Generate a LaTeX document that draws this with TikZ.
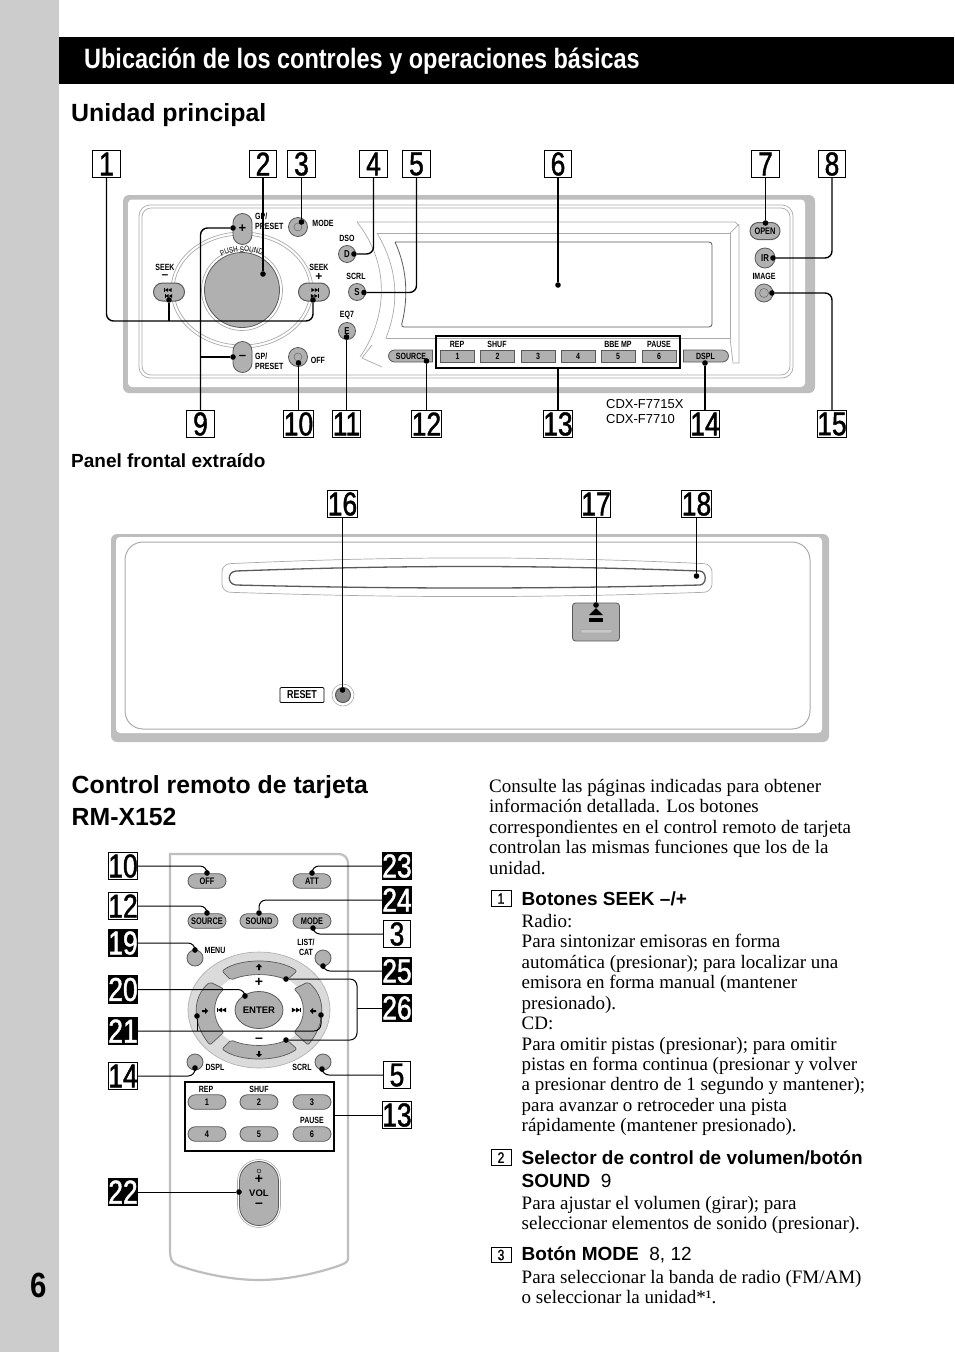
\documentclass[tikz,border=0pt]{standalone}
\usepackage{fontspec}
\setmainfont{Liberation Serif}
\setsansfont{Liberation Sans}
\newfontfamily\condfont[FakeStretch=0.78]{Liberation Sans}
\newfontfamily\headfont[FakeStretch=0.838]{Liberation Sans}
\newfontfamily\boxfont[FakeStretch=0.8,FakeBold=1.3]{Liberation Sans}
\usetikzlibrary{positioning,shapes.misc,shapes.geometric,decorations.text}
\definecolor{stripgray}{RGB}{204,204,204}
\definecolor{framegray}{RGB}{190,190,190}
\definecolor{keygray}{RGB}{176,176,176}
\definecolor{linegray}{RGB}{170,170,170}
\definecolor{keyedge}{RGB}{90,90,90}
\tikzset{
  numbox/.style={draw=black,fill=white,line width=0.7pt,minimum width=27.5pt,minimum height=27.5pt,inner sep=0pt,font=\boxfont\fontsize{33}{33}\selectfont},
  blackbox/.style={numbox,fill=black,text=white},
  txtbox/.style={draw=black,line width=0.7pt,minimum width=20pt,minimum height=15.5pt,inner sep=0pt,font=\boxfont\fontsize{15}{15}\selectfont},
  dotmark/.style={circle,fill=black,inner sep=0pt,minimum size=5.6pt},
  leader/.style={line width=1.4pt,rounded corners=7pt},
  tiny/.style={inner sep=0pt,align=center,font=\condfont\bfseries\fontsize{9}{10}\selectfont},
  minikey/.style={tiny},
  roundkey/.style={circle,draw=keyedge,fill=keygray,line width=0.8pt,minimum size=#1,inner sep=0pt},
  pillkey/.style={rounded rectangle,draw=keyedge,fill=keygray,line width=0.8pt,minimum width=38pt,minimum height=14.5pt,inner sep=0pt,font=\condfont\bfseries\fontsize{9.5}{10}\selectfont},
  ringline/.style={draw=linegray,line width=0.7pt},
  bodytext/.style={anchor=north west,inner sep=0pt,align=left,font=\rmfamily\fontsize{19}{20.45}\selectfont},
  itemhead/.style={anchor=west,inner sep=0pt,align=left,font=\sffamily\bfseries\fontsize{19}{22.5}\selectfont},
  skipicon/.pic={
    \fill (-6,-2.4) rectangle (-5.2,2.4);
    \fill (-5.2,0) -- (-1,-2.4) -- (-1,2.4) -- cycle;
    \fill (-1,0) -- (3.2,-2.4) -- (3.2,2.4) -- cycle;
  },
  padarrow/.pic={
    \fill (0,-3.2) -- (3.2,0) -- (1,0) -- (1,3) -- (-1,3) -- (-1,0) -- (-3.2,0) -- cycle;
  }
}
\begin{document}
\begin{tikzpicture}[x=1pt,y=-1pt]
  \useasboundingbox (0,0) rectangle (954,1352);
  % page furniture
  \fill[stripgray] (0,0) rectangle (58.5,1352);
  \fill[black] (58.5,37) rectangle (954,84);
  \node[anchor=west,inner sep=0pt,text=white,font=\headfont\bfseries\fontsize{28}{28}\selectfont] (title) at (84,61) {Ubicación de los controles y operaciones básicas};
  \node[anchor=center,inner sep=0pt,font=\headfont\bfseries\fontsize{35}{35}\selectfont] (pageno) at (39,1285) {6};
  \node[anchor=west,inner sep=0pt,font=\sffamily\bfseries\fontsize{24.9}{25}\selectfont] (unidad) at (71,115.5) {Unidad principal};
  \node[anchor=west,inner sep=0pt,font=\sffamily\bfseries\fontsize{19}{19}\selectfont] (panel) at (71,461) {Panel frontal extraído};
  \node[anchor=west,inner sep=0pt,font=\sffamily\bfseries\fontsize{24.8}{25}\selectfont] (control) at (71.5,787.5) {Control remoto de tarjeta};
  \node[anchor=west,inner sep=0pt,font=\sffamily\bfseries\fontsize{24.8}{25}\selectfont] (rmx) at (71.5,817) {RM-X152};

  % main unit
  \fill[framegray,rounded corners=6pt] (123,195) rectangle (815,393);
  \fill[white,rounded corners=4pt] (128,199.5) rectangle (805,387);
  \draw[ringline,rounded corners=11pt] (139,205) rectangle (793,378);
  \draw[ringline,rounded corners=9pt] (142,208) rectangle (790,375);
  \draw[ringline] (357,222) -- (735,222) -- (739,226) -- (739,363) -- (733,363);
  \draw[ringline] (377,233) -- (730,233) -- (730,338) -- (386,338);
  \draw[ringline] (730,233) -- (739,224) (730,338) -- (733,363);
  \draw[ringline] (357,222) .. controls (389,262) and (389,315) .. (360,357);
  \draw[ringline] (377,233) .. controls (399,270) and (399,305) .. (386,338);
  \draw[ringline] (372,345) -- (362,358) -- (382,367);
  \draw[draw=keyedge,line width=0.8pt,rounded corners=3pt] (395,242) -- (712,242) -- (712,327) -- (401,327) .. controls (408,300) and (408,270) .. (395,242);
  % dial and ring
  \draw[ringline,fill=white] (242,290) ellipse (71pt and 58pt);
  \draw[ringline] (242,290) ellipse (68pt and 55pt);
  \node[circle,draw=linegray,line width=0.7pt,minimum size=81pt,inner sep=0pt] (dialring) at (242,290) {};
  \node[circle,draw=keyedge,fill=keygray,line width=0.8pt,minimum size=75pt,inner sep=0pt] (dial) at (242,290) {};
  \path[decorate,decoration={text along path,text align=center,text={|\condfont\fontsize{8}{8}\selectfont|PUSH SOUND}}] (218,259) .. controls (230,250) and (252,250) .. (266,257);
  % keys of the main unit
  \node[rounded rectangle,rotate=90,draw=keyedge,fill=keygray,line width=0.8pt,minimum width=31pt,minimum height=19pt,inner sep=0pt] (gpup) at (242.5,229) {};
  \node[rounded rectangle,rotate=90,draw=keyedge,fill=keygray,line width=0.8pt,minimum width=31pt,minimum height=19pt,inner sep=0pt] (gpdown) at (242.5,357) {};
  \node[inner sep=0pt,font=\sffamily\bfseries\fontsize{13}{13}\selectfont] (gpplus) at (242.5,229) {+};
  \node[inner sep=0pt,font=\sffamily\bfseries\fontsize{13}{13}\selectfont] (gpminus) at (242.5,357) {–};
  \node[rounded rectangle,draw=keyedge,fill=keygray,line width=1pt,minimum width=31pt,minimum height=18pt,inner sep=0pt] (seekl) at (169,292) {};
  \node[rounded rectangle,draw=keyedge,fill=keygray,line width=1pt,minimum width=31pt,minimum height=18pt,inner sep=0pt] (seekr) at (314,292) {};
  \pic[scale=0.8] at (169,290) {skipicon};
  \pic[scale=0.8] at (169.5,296) {skipicon};
  \pic[xscale=-0.8,yscale=0.8] at (314,290) {skipicon};
  \pic[xscale=-0.8,yscale=0.8] at (313.5,296) {skipicon};
  \node[roundkey=19pt] (modekey) at (298,227) {};
  \node[circle,draw=keyedge,minimum size=8pt,inner sep=0pt] (modehole) at (298,227) {};
  \node[roundkey=19pt] (offkey) at (298,357) {};
  \node[circle,draw=keyedge,minimum size=8pt,inner sep=0pt] (offhole) at (298,357) {};
  \node[roundkey=17pt,font=\condfont\bfseries\fontsize{10}{10}\selectfont] (dkey) at (347,254) {D};
  \node[roundkey=17pt,font=\condfont\bfseries\fontsize{10}{10}\selectfont] (skey) at (357,292) {S};
  \node[roundkey=17pt,font=\condfont\bfseries\fontsize{10}{10}\selectfont] (ekey) at (347,331) {E};
  \node[rounded rectangle,draw=keyedge,fill=keygray,line width=1pt,minimum width=30pt,minimum height=17pt,inner sep=0pt,font=\condfont\bfseries\fontsize{9.5}{10}\selectfont] (openkey) at (765,231) {OPEN};
  \node[roundkey=20pt,font=\condfont\bfseries\fontsize{10}{10}\selectfont] (irkey) at (765,258) {IR};
  \node[roundkey=18pt] (imagekey) at (764,293) {};
  \node[circle,draw=keyedge,minimum size=9pt,inner sep=0pt] (imagehole) at (764,293) {};
  \node[rounded rectangle,rounded rectangle right arc=none,draw=keyedge,fill=keygray,line width=0.8pt,minimum width=44pt,minimum height=12pt,inner sep=0pt,font=\condfont\bfseries\fontsize{9}{10}\selectfont] (sourcekey) at (411,356) {SOURCE};
  \node[rounded rectangle,rounded rectangle left arc=none,draw=keyedge,fill=keygray,line width=0.8pt,minimum width=45pt,minimum height=12pt,inner sep=0pt,font=\condfont\bfseries\fontsize{9}{10}\selectfont] (dsplkey) at (705.5,356) {DSPL};
  \foreach \k/\x in {1/457.5,2/497.5,3/538,4/578,5/618,6/659}{
    \node[draw=keyedge,fill=keygray,line width=0.8pt,minimum width=34pt,minimum height=12pt,inner sep=0pt,font=\condfont\bfseries\fontsize{9}{10}\selectfont] (preset\k) at (\x,356) {\k};
  }
  \foreach \m/\x/\y/\t in {mode/323/223/MODE,off/318/360/OFF,dso/347/238/DSO,scrl/356/276/SCRL,eqs/347/315/EQ7,image/764/276/IMAGE,seeka/165/267/SEEK,seekb/319/267/SEEK,rep/457/344/REP,shuf/497/344/SHUF,bbe/618/344/BBE MP,pause/659/344/PAUSE}{
    \node[tiny] (lab\m) at (\x,\y) {\t};
  }
  \node[tiny,align=left,anchor=north west] (labgpa) at (255,212.5) {GP/\\PRESET};
  \node[tiny,align=left,anchor=north west] (labgpb) at (255,352.5) {GP/\\PRESET};
  \node[inner sep=0pt,font=\sffamily\bfseries\fontsize{12}{12}\selectfont] (seekminus) at (165,277) {–};
  \node[inner sep=0pt,font=\sffamily\bfseries\fontsize{12}{12}\selectfont] (seekplus) at (319,277) {+};
  \draw[line width=2pt] (436,336) rectangle (680,368);
  \coordinate (frameb) at (558,368);
  \node[anchor=west,inner sep=0pt,font=\sffamily\fontsize{13}{15}\selectfont,align=left] (model) at (606,411.5) {CDX-F7715X\\CDX-F7710};

  % front panel removed
  \fill[framegray,rounded corners=6pt] (111,534) rectangle (829,742);
  \fill[white,rounded corners=4pt] (116,537) rectangle (822,733);
  \draw[ringline,line width=1pt,rounded corners=18pt] (125,542) rectangle (810,729);
  \draw[ringline,rounded corners=8pt] (222,564) .. controls (400,556) and (540,556) .. (712,564) -- (712,592) .. controls (540,598) and (400,598) .. (222,592) -- cycle;
  \draw[keyedge,line width=1.3pt] (236,571) .. controls (400,565) and (540,565) .. (700,571) .. controls (707,572) and (707,584) .. (700,585) .. controls (540,589) and (400,589) .. (236,585) .. controls (227,584) and (227,572) .. (236,571) -- cycle;
  \node[draw=keyedge,fill=keygray,line width=0.8pt,rounded corners=3pt,minimum width=47pt,minimum height=38pt,inner sep=0pt] (ejectkey) at (596,622) {};
  \fill (589,615) -- (596,608) -- (603,615) -- cycle;
  \fill (589,618) rectangle (603,621.5);
  \draw[draw=linegray,fill=keygray!70,line width=0.6pt,rounded corners=1pt] (581,629.5) rectangle (612,633);
  \node[draw=black,line width=0.7pt,rounded corners=1pt,minimum width=44pt,minimum height=15pt,inner sep=0pt,font=\condfont\bfseries\fontsize{11.5}{12}\selectfont] (resetlabel) at (302,695) {RESET};
  \node[circle,draw=linegray,line width=0.6pt,minimum size=22pt,inner sep=0pt] (resetring) at (343,695) {};
  \node[circle,draw=keyedge,fill=keygray!80!black,line width=1pt,minimum size=15pt,inner sep=0pt] (resetkey) at (343,695) {};

  % card remote
  \draw[draw=framegray,line width=2.2pt,fill=white,rounded corners=9pt] (170,854) -- (348,854) -- (348,1250) [sharp corners] .. controls (348,1262) and (344,1264) .. (338,1266) .. controls (315,1274) and (285,1280) .. (259,1280) .. controls (233,1280) and (203,1274) .. (180,1266) .. controls (174,1264) and (170,1262) .. (170,1250) -- cycle;
  \foreach \m/\x/\y/\t in {off/207/881/OFF,att/312/881/ATT,source/207/921/SOURCE,sound/259/921/SOUND,mode/312/921/MODE,one/207/1102/1,two/259/1102/2,three/312/1102/3,four/207/1134/4,five/259/1134/5,six/312/1134/6}{
    \node[pillkey] (rk\m) at (\x,\y) {\t};
  }
  \foreach \m/\x/\y in {menu/195/958,list/323/958,dspl/195/1062,scrl/323/1062}{
    \node[roundkey=16pt] (rk\m) at (\x,\y) {};
  }
  \foreach \m/\x/\y/\t in {menu/215/950/MENU,list/306/947/{LIST/\\CAT},dspl/215/1067/DSPL,scrl/302/1067/SCRL,rep/206/1089/REP,shuf/259/1089/SHUF,pause/312/1120/PAUSE}{
    \node[minikey] (rl\m) at (\x,\y) {\t};
  }
  \draw[draw=linegray,fill=stripgray!70,line width=0.6pt] (259,1010) ellipse (71pt and 58pt);
  \fill[white] (259,1010) ellipse (48pt and 38pt);
  \draw[draw=keyedge,fill=keygray,line width=0.7pt,rounded corners=2pt] (222,971) .. controls (240,958) and (278,958) .. (297,971) -- (287,980) .. controls (270,973) and (248,973) .. (231,980) -- cycle;
  \draw[draw=keyedge,fill=keygray,line width=0.7pt,rounded corners=2pt] (222,1049) .. controls (240,1062) and (278,1062) .. (297,1049) -- (287,1040) .. controls (270,1047) and (248,1047) .. (231,1040) -- cycle;
  \draw[draw=keyedge,fill=keygray,line width=0.7pt,rounded corners=2pt] (308,982) .. controls (326,997) and (326,1023) .. (308,1045) -- (294,1032) .. controls (306,1020) and (306,1000) .. (294,989) -- cycle;
  \draw[draw=keyedge,fill=keygray,line width=0.7pt,rounded corners=2pt] (210,982) .. controls (192,997) and (192,1023) .. (210,1045) -- (224,1032) .. controls (212,1020) and (212,1000) .. (224,989) -- cycle;
  \node[ellipse,draw=keyedge,fill=keygray,line width=0.8pt,minimum width=48pt,minimum height=37pt,inner sep=0pt,font=\sffamily\bfseries\fontsize{9.5}{10}\selectfont] (enterkey) at (259,1010) {ENTER};
  \pic at (259,967) {padarrow};
  \pic[rotate=180] at (259,1054) {padarrow};
  \pic[rotate=-90] at (205,1011) {padarrow};
  \pic[rotate=90] at (313,1011) {padarrow};
  \pic at (223,1010) {skipicon};
  \pic[xscale=-1] at (295,1010) {skipicon};
  \node[inner sep=0pt,font=\sffamily\bfseries\fontsize{14}{14}\selectfont] (padplus) at (259,982) {+};
  \node[inner sep=0pt,font=\sffamily\bfseries\fontsize{14}{14}\selectfont] (padminus) at (259,1040) {–};
  \draw[line width=1.3pt] (185,1082) rectangle (334,1151);
  \coordinate (framer) at (334,1115);
  \node[rounded rectangle,rotate=90,draw=linegray,line width=0.6pt,minimum width=68pt,minimum height=43pt,inner sep=0pt] (volring) at (259,1193.5) {};
  \node[rounded rectangle,rotate=90,draw=keyedge,fill=keygray,line width=0.8pt,minimum width=64pt,minimum height=39pt,inner sep=0pt] (volkey) at (259,1193.5) {};
  \node[circle,draw=black,line width=0.4pt,minimum size=4pt,inner sep=0pt] (voldot) at (259,1171) {};
  \node[inner sep=0pt,font=\sffamily\bfseries\fontsize{14}{14}\selectfont] (volplus) at (259,1179) {+};
  \node[inner sep=0pt,font=\sffamily\bfseries\fontsize{9.5}{10}\selectfont] (vollabel) at (259,1193) {VOL};
  \node[inner sep=0pt,font=\sffamily\bfseries\fontsize{14}{14}\selectfont] (volminus) at (259,1205) {–};

  % number boxes
  \foreach \n/\x/\y in {1/106.5/164,2/263/164,3/301.5/164,4/373.5/164,5/416.5/164,6/558/164,7/765.5/164,8/832/164,9/200.5/424,10/298.5/424,11/346.5/424,12/426.5/424,13/558/424,14/705/424,15/832/424,16/342.5/504,17/596/504,18/696.5/504}{
    \node[numbox] (b\n) at (\x,\y) {\n};
  }
  \foreach \n/\x/\y in {10/123/866,12/123/906,14/123/1076,3/397/934,5/397/1075,13/397/1115}{
    \node[numbox] (r\n) at (\x,\y) {\n};
  }
  \foreach \n/\x/\y in {19/123/943,20/123/989.5,21/123/1031,22/123/1192,23/397/866,24/397/900,25/397/971,26/397/1008}{
    \node[blackbox] (r\n) at (\x,\y) {\n};
  }

  % dots
  \foreach \n/\x/\y in {1a/169/300,1b/313/300,2/263/274,3/301.5/222,4/354/254,5/364/292.5,6/558/285,7/765.5/223,8/773/258,9a/233/228,9b/233/357,10/298.5/363,11/346.5/337,12/426.5/361,14/705/363,15/772/293,16/342.5/690,17/596/605,18/696.5/576}{
    \node[dotmark] (d\n) at (\x,\y) {};
  }
  \foreach \n/\x/\y in {10/207/873,12/207/913,19/195/950,20/245/996,21a/197/1016,21b/321/1015,14/195/1068,22/239/1192,23/312/873,24/259/913,3/313/928,25/323/966,26a/286/979,26b/286/1040,5/322/1069}{
    \node[dotmark] (e\n) at (\x,\y) {};
  }

  % leaders, main unit
  \draw[leader] (b1.south) |- (300,321) -| (d1b);
  \draw[leader] (d1a) -- (169,321);
  \draw[leader] (b2.south) -- (d2);
  \draw[leader] (b3.south) -- (d3);
  \draw[leader] (b4.south) |- (d4);
  \draw[leader] (b5.south) |- (d5);
  \draw[leader] (b6.south) -- (d6);
  \draw[leader] (b7.south) -- (d7);
  \draw[leader] (b8.south) |- (d8);
  \draw[leader] (b9.north) |- (d9a);
  \draw[leader] (200.5,357) -- (d9b);
  \draw[leader] (b10.north) -- (d10);
  \draw[leader] (b11.north) -- (d11);
  \draw[leader] (b12.north) -- (d12);
  \draw[leader] (b13.north) -- (frameb);
  \draw[leader] (b14.north) -- (d14);
  \draw[leader] (b15.north) |- (d15);
  \draw[leader,line width=1pt] (b16.south) -- (d16);
  \draw[leader,line width=1pt] (b17.south) -- (d17);
  \draw[leader,line width=1pt] (b18.south) -- (d18);

  % leaders, remote
  \draw[leader,line width=1pt] (r10.east) -| (e10);
  \draw[leader,line width=1pt] (r12.east) -| (e12);
  \draw[leader,line width=1pt] (r19.east) -| (e19);
  \draw[leader,line width=1pt] (r20.east) -| (e20);
  \draw[leader,line width=1pt] (r21.east) -| (e21b);
  \draw[leader,line width=1pt] (e21a) -- (197,1031);
  \draw[leader,line width=1pt] (r14.east) -| (e14);
  \draw[leader,line width=1pt] (r22.east) -- (e22);
  \draw[leader,line width=1pt] (r23.west) -| (e23);
  \draw[leader,line width=1pt] (r24.west) -| (e24);
  \draw[leader,line width=1pt] (r3.west) -| (e3);
  \draw[leader,line width=1pt] (r25.west) -| (e25);
  \draw[leader,line width=1pt] (e26a) -| (357,1008);
  \draw[leader,line width=1pt] (e26b) -| (357,1008);
  \draw[leader,line width=1pt] (r26.west) -- (357,1008);
  \draw[leader,line width=1pt] (r5.west) -| (e5);
  \draw[leader,line width=1pt] (r13.west) -- (framer);

  % text column
  \node[bodytext] (intro) at (489,779) {Consulte las páginas indicadas para obtener\\información detallada. Los botones\\correspondientes en el control remoto de tarjeta\\controlan las mismas funciones que los de la\\unidad.};
  \node[txtbox] (t1) at (501,898.5) {1};
  \node[itemhead] (h1) at (521.5,898.5) {Botones SEEK –/+};
  \node[bodytext] (p1) at (521.5,914) {Radio:\\Para sintonizar emisoras en forma\\automática (presionar); para localizar una\\emisora en forma manual (mantener\\presionado).\\CD:\\Para omitir pistas (presionar); para omitir\\pistas en forma continua (presionar y volver\\a presionar dentro de 1 segundo y mantener);\\para avanzar o retroceder una pista\\rápidamente (mantener presionado).};
  \node[txtbox] (t2) at (501,1157.5) {2};
  \node[itemhead] (h2) at (521.5,1169) {Selector de control de volumen/botón\\SOUND\ \ \textmd{9}};
  \node[bodytext] (p2) at (521.5,1196) {Para ajustar el volumen (girar); para\\seleccionar elementos de sonido (presionar).};
  \node[txtbox] (t3) at (501,1255) {3};
  \node[itemhead] (h3) at (521.5,1255) {Botón MODE\ \ \textmd{8, 12}};
  \node[bodytext] (p3) at (521.5,1270) {Para seleccionar la banda de radio (FM/AM)\\o seleccionar la unidad*¹.};
\end{tikzpicture}
\end{document}
